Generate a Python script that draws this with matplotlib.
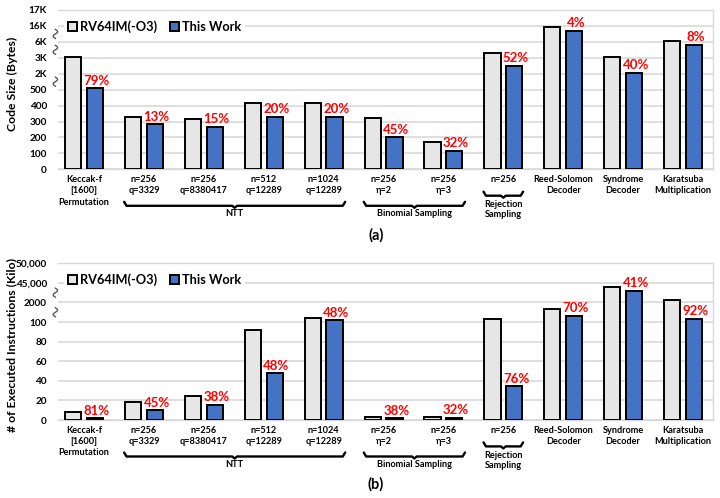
import numpy as np
import matplotlib
matplotlib.use('Agg')
import matplotlib.pyplot as plt
from matplotlib.patches import Patch
from matplotlib import transforms

plt.rcParams['font.family'] = ['Lato', 'DejaVu Sans']

# --- data ---
groups = ['Keccak-f\n[1600]\nPermutation', 'n=256\nq=3329', 'n=256\nq=8380417',
          'n=512\nq=12289', 'n=1024\nq=12289', 'n=256\nη=2', 'n=256\nη=3', 'n=256',
          'Reed-Solomon\nDecoder', 'Syndrome\nDecoder', 'Karatsuba\nMultiplication']
series = ['RV64IM(-O3)', 'This Work']

# (a) code size in bytes
size_ticks = [0, 100, 200, 300, 400, 500, 2000, 3000, 6000, 16000, 17000]
size_tick_labels = ['0', '100', '200', '300', '400', '500', '2K', '3K', '6K', '16K', '17K']
size_rv = [3150, 330, 316, 414, 414, 320, 173, 3960, 15100, 3090, 6600]
size_tw = [650, 284, 267, 330, 330, 201, 117, 2500, 13000, 2060, 5430]
size_pct = ['79%', '13%', '15%', '20%', '20%', '45%', '32%', '52%', '4%', '40%', '8%']

# (b) executed instructions in kilo
inst_ticks = [0, 20, 40, 60, 80, 100, 2000, 45000, 50000]
inst_tick_labels = ['0', '20', '40', '60', '80', '100', '2000', '45,000', '50,000']
inst_rv = [8.5, 18.4, 24.5, 91.9, 522, 2.6, 3.4, 366, 1337, 35900, 7375]
inst_tw = [1.7, 10.2, 15.6, 47.7, 269, 1.6, 2.3, 34.7, 716, 27800, 425]
inst_pct = ['81%', '45%', '38%', '48%', '48%', '38%', '32%', '76%', '70%', '41%', '92%']

# bracketed group captions: (first group, last group, caption)
brackets = [(1, 4, 'NTT'), (5, 6, 'Binomial Sampling'), (7, 7, 'Rejection\nSampling')]

C_RV = '#E7E6E6'
C_TW = '#4472C4'
GRID = '#D9D9D9'

fig = plt.figure(figsize=(7.2, 4.98), dpi=100)
W, H = 720, 498


def piecewise(ticks):
    idx = np.arange(len(ticks), dtype=float)
    fwd = lambda v: np.interp(v, ticks, idx)
    inv = lambda p: np.interp(p, idx, ticks)
    return fwd, inv


def draw_panel(top_px, zero_px, ticks, tick_labels, rv, tw, pct, breaks):
    ax = fig.add_axes([58 / W, 1 - zero_px / H, 655 / W, (zero_px - top_px) / H])
    fwd, inv = piecewise(ticks)
    ax.set_yscale('function', functions=(fwd, inv))
    ax.set_ylim(0, ticks[-1])
    x = np.arange(len(groups))
    off, bw = 0.182, 0.27
    ax.bar(x - off, rv, bw, color=C_RV, edgecolor='black', linewidth=1.4, zorder=3)
    ax.bar(x + off, tw, bw, color=C_TW, edgecolor='black', linewidth=1.4, zorder=3)
    for xi, v, t in zip(x, tw, pct):
        ax.annotate(t, (xi + off + 0.03, v), xytext=(0, 1), textcoords='offset points',
                    ha='center', va='bottom', color='#FF0000', fontsize=9.5,
                    fontweight='bold', zorder=4)

    ax.set_xlim(-0.434, 10.5)
    ax.set_yticks(ticks)
    ax.set_yticklabels(tick_labels)
    ax.set_xticks(x)
    ax.set_xticklabels(groups, linespacing=1.35)
    ax.tick_params(axis='x', length=0, pad=4, labelsize=6.6)
    ax.tick_params(axis='y', length=0, pad=8, labelsize=7.2)
    for lab in ax.get_xticklabels() + ax.get_yticklabels():
        lab.set_fontweight('bold')
    ax.yaxis.grid(True, color=GRID, linewidth=1.2, zorder=0)
    ax.set_axisbelow(True)
    for s in ax.spines.values():
        s.set_color(GRID)
        s.set_linewidth(1.0)
    ax.spines['left'].set_visible(False)

    # axis break marks
    n = len(ticks) - 1
    hpx = (zero_px - top_px)
    t = np.linspace(-1, 1, 30)
    for b in breaks:
        c = (b + 0.5) / n
        ax.plot(-0.004 + 2.2 / 655 * np.sin(np.pi * t), c + t * 4.5 / hpx,
                transform=ax.transAxes, color='#595959', linewidth=1.0, clip_on=False)

    # group brackets under the tick labels
    trans = transforms.blended_transform_factory(ax.transData, fig.dpi_scale_trans)
    for g0, g1, cap in brackets:
        single = g0 == g1
        x0 = g0 - 0.33
        x1 = g1 + (0.33 if single else 0.36)
        xc = (x0 + x1) / 2
        yb = (H - (zero_px + (26.4 if single else 36.5))) / 100
        e = 0.04
        ax.plot([x0, x0 + e, xc - e, xc, xc + e, x1 - e, x1],
                [yb + 0.04, yb, yb, yb - 0.02, yb, yb, yb + 0.04],
                transform=trans, color='black', linewidth=1.7, clip_on=False,
                solid_joinstyle='round', solid_capstyle='round')
        yt = (H - (zero_px + (40.3 if single else 44.3))) / 100
        ax.text(xc, yt, cap, transform=trans, ha='center', va='center',
                fontsize=6.6, fontweight='bold', linespacing=1.15)

    handles = [Patch(facecolor=C_RV, edgecolor='black', linewidth=1.4),
               Patch(facecolor=C_TW, edgecolor='black', linewidth=1.4)]
    leg = ax.legend(handles, series, loc='upper left', bbox_to_anchor=(0.0, 1.0),
                    ncol=2, frameon=True, framealpha=1, edgecolor='none',
                    fontsize=9.2, handlelength=0.7, handleheight=0.7,
                    handletextpad=0.25, columnspacing=1.0, borderpad=0.3)
    for txt in leg.get_texts():
        txt.set_fontweight('bold')
    return ax


ax_a = draw_panel(10, 169.3, size_ticks, size_tick_labels, size_rv, size_tw, size_pct,
                  breaks=[5, 7, 8])
ax_b = draw_panel(263.3, 420, inst_ticks, inst_tick_labels, inst_rv, inst_tw, inst_pct,
                  breaks=[5, 6])

fig.text(12 / W, 1 - 84 / H, 'Code Size (Bytes)', rotation=90, ha='center', va='center',
         fontsize=8.8, fontweight='bold')
fig.text(12 / W, 1 - 345 / H, '# of Executed Instructions (Kilo)', rotation=90,
         ha='center', va='center', fontsize=8.8, fontweight='bold')
fig.text(376 / W, 1 - 235 / H, '(a)', ha='center', va='center', fontsize=10.5, fontweight='bold')
fig.text(376 / W, 1 - 484 / H, '(b)', ha='center', va='center', fontsize=10.5, fontweight='bold')

fig.savefig('out.png', dpi=100)
plt.close(fig)
